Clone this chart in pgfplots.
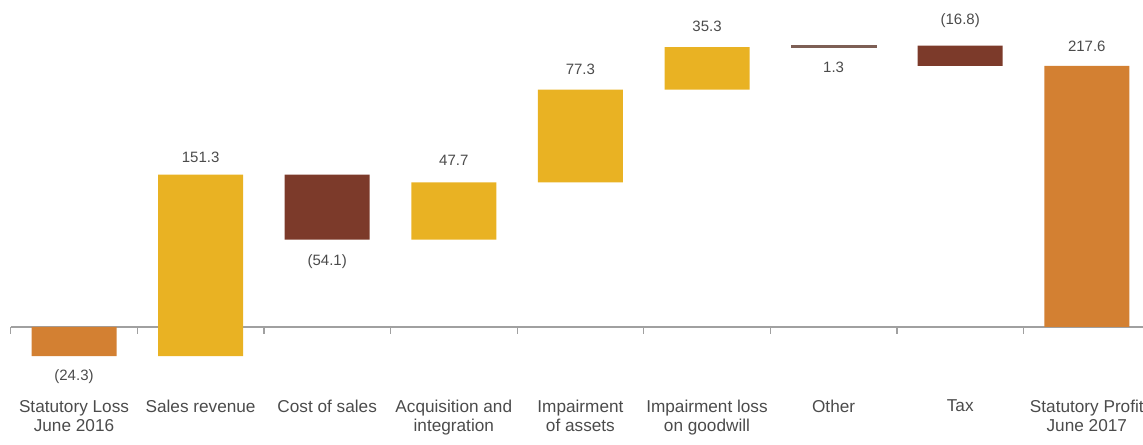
\documentclass[border=0pt]{standalone}
\usepackage{pgfplots}
\pgfplotsset{compat=1.18}
\usepackage{fontspec}
\setmainfont{Liberation Sans}
\definecolor{corange}{RGB}{211,128,50}
\definecolor{cyellow}{RGB}{233,178,35}
\definecolor{cbrown}{RGB}{124,58,42}
\definecolor{cline}{RGB}{125,95,85}
\definecolor{ctext}{RGB}{75,75,75}
\definecolor{caxis}{RGB}{160,160,160}
\tikzset{vlab/.style={font=\fontsize{7.5}{9}\selectfont, text=ctext}}
\begin{document}
\begin{tikzpicture}
\useasboundingbox (0pt,0pt) rectangle (571.5pt,222pt);
\begin{axis}[
  at={(5.35pt,34.5pt)}, anchor=south west,
  scale only axis, width=569.7pt, height=187.5pt,
  xmin=0.5, xmax=9.5, ymin=-40, ymax=272.5,
  clip=false,
  ybar stacked, stack negative=on previous, bar width=42.5pt,
  axis x line=middle, axis y line=none,
  axis line style={caxis, -, line width=0.6pt},
  xtick={1,...,9},
  xticklabels={{Statutory Loss\\June 2016},{Sales revenue},{Cost of sales},{Acquisition and\\integration},{Impairment\\of assets},{Impairment loss\\on goodwill},{Other},{Tax},{Statutory Profit\\June 2017}},
  xticklabel style={align=center, font=\fontsize{8.6}{9.5}\selectfont, text=ctext, anchor=north, yshift=-33pt},
  major tick length=0pt,
  minor xtick={0.5,1.5,...,9.5},
  minor tick length=3.5pt,
  tick align=outside,
  minor tick style={caxis, line width=0.6pt},
  ytick=\empty,
]
\addplot[draw=none, fill=none] coordinates {(1,0) (2,-24.3) (3,127.0) (4,72.9) (5,120.6) (6,197.9) (7,233.2) (8,234.5) (9,0)};
\addplot[draw=none, fill=corange] coordinates {(1,-24.3) (2,0) (3,0) (4,0) (5,0) (6,0) (7,0) (8,0) (9,217.6)};
\addplot[draw=none, fill=cyellow] coordinates {(1,0) (2,151.3) (3,0) (4,47.7) (5,77.3) (6,35.3) (7,0) (8,0) (9,0)};
\addplot[draw=none, fill=cbrown] coordinates {(1,0) (2,0) (3,-54.1) (4,0) (5,0) (6,0) (7,0) (8,-16.8) (9,0)};
\addplot[draw=cline, fill=cline, line width=0.5pt] coordinates {(1,0) (2,0) (3,0) (4,0) (5,0) (6,0) (7,1.3) (8,0) (9,0)};
\node[vlab, yshift=-10pt] at (axis cs:1,-24.3) {(24.3)};
\node[vlab, yshift=8.5pt] at (axis cs:2,127.0) {151.3};
\node[vlab, yshift=-11pt] at (axis cs:3,72.9) {(54.1)};
\node[vlab, yshift=11pt] at (axis cs:4,120.6) {47.7};
\node[vlab, yshift=10pt] at (axis cs:5,197.9) {77.3};
\node[vlab, yshift=10.5pt] at (axis cs:6,233.2) {35.3};
\node[vlab, yshift=-10pt] at (axis cs:7,233.2) {1.3};
\node[vlab, yshift=12.5pt] at (axis cs:8,234.5) {(16.8)};
\node[vlab, yshift=10pt] at (axis cs:9,217.6) {217.6};
\end{axis}
\end{tikzpicture}
\end{document}
